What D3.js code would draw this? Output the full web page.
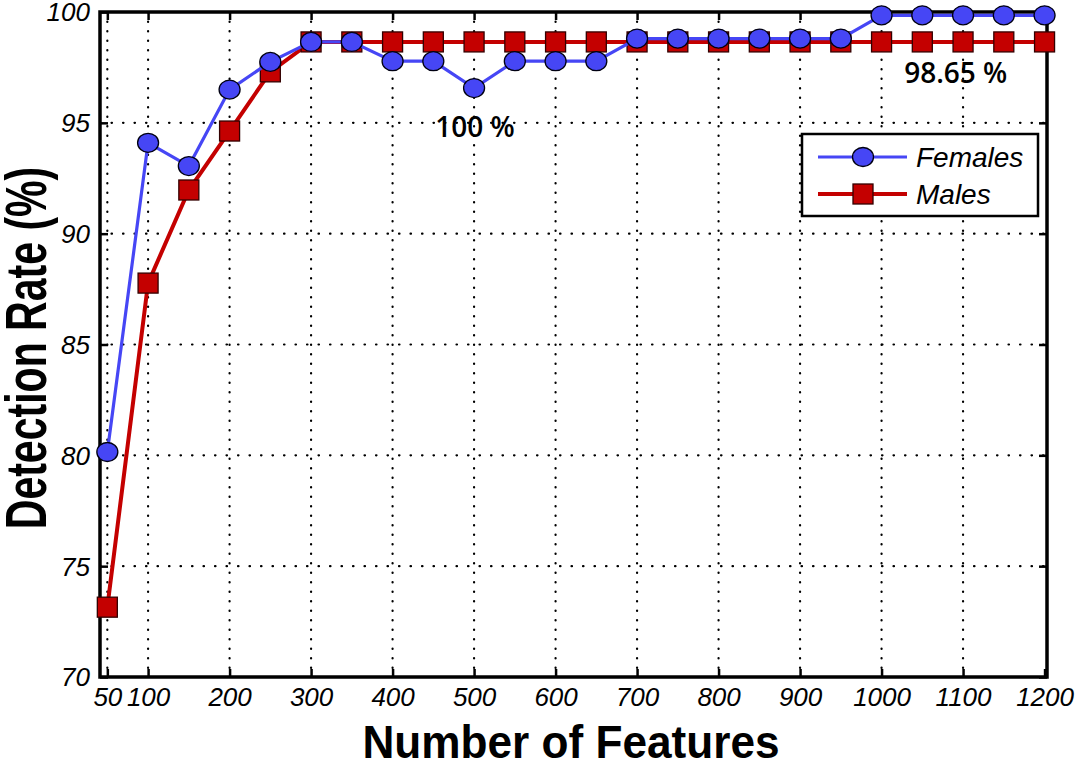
<!DOCTYPE html>
<html><head><meta charset="utf-8">
<script src="https://cdn.jsdelivr.net/npm/d3@7"></script>
<style>body{margin:0;background:#fff}svg{display:block}</style>
</head><body>
<svg id="c" width="1080" height="760"></svg>
<script>
const features = [50,100,150,200,250,300,350,400,450,500,550,600,650,700,750,800,850,900,950,1000,1050,1100,1150,1200];
const females = [80.15,94.1,93.05,96.5,97.75,98.65,98.65,97.78,97.78,96.57,97.78,97.78,97.78,98.8,98.8,98.8,98.8,98.8,98.8,99.85,99.85,99.85,99.85,99.85];
const males = [73.15,87.77,91.97,94.63,97.3,98.65,98.65,98.65,98.65,98.65,98.65,98.65,98.65,98.65,98.65,98.65,98.65,98.65,98.65,98.65,98.65,98.65,98.65,98.65];
const xTicks = [50,100,200,300,400,500,600,700,800,900,1000,1100,1200];
const yTicks = [70,75,80,85,90,95,100];
const seriesNames = ["Females","Males"];
const annotations = [{text:"98.65 %", x:1091, y:96.79},{text:"100 %", x:501, y:94.36}];

const svg = d3.select("#c");
const L=100, R=1047, T=12, B=677;
const x = d3.scaleLinear().domain([41,1203]).range([L,R]);
const y = d3.scaleLinear().domain([70,100]).range([B,T]);
const blue="#4646f5", red="#c40000";
const FONT="Liberation Sans, Arial, sans-serif";

// grid
const g = svg.append("g");
g.selectAll(".vg").data(xTicks.filter(d=>d<1200)).join("line")
  .attr("x1",d=>x(d)).attr("x2",d=>x(d)).attr("y1",T).attr("y2",B)
  .attr("stroke","#000").attr("stroke-width",2.2).attr("stroke-dasharray","0.5,9").attr("stroke-linecap","round");
g.selectAll(".hg").data(yTicks.filter(d=>d>70&&d<100)).join("line")
  .attr("x1",L).attr("x2",R).attr("y1",d=>y(d)).attr("y2",d=>y(d))
  .attr("stroke","#000").attr("stroke-width",2.2).attr("stroke-dasharray","0.5,11").attr("stroke-linecap","round");

// axes (ticks inward)
const xa = svg.append("g").attr("transform",`translate(0,${B})`)
  .call(d3.axisBottom(x).tickValues(xTicks).tickSize(-8).tickPadding(11).tickFormat(d3.format("d")));
const xt = svg.append("g").attr("transform",`translate(0,${T})`)
  .call(d3.axisTop(x).tickValues(xTicks).tickSize(-8).tickFormat(""));
const ya = svg.append("g").attr("transform",`translate(${L},0)`)
  .call(d3.axisLeft(y).tickValues(yTicks).tickSize(-8).tickPadding(10).tickFormat(d3.format("d")));
const yr = svg.append("g").attr("transform",`translate(${R},0)`)
  .call(d3.axisRight(y).tickValues(yTicks).tickSize(-8).tickFormat(""));
[xa,xt,ya,yr].forEach(a=>{a.select(".domain").remove();a.selectAll("line").attr("stroke","#000").attr("stroke-width",2.5);});
[xa,ya].forEach(a=>a.selectAll("text").attr("font-family",FONT).attr("font-size",26).attr("font-style","italic").attr("fill","#000"));
xa.selectAll("text").attr("dy","0.71em");
ya.selectAll("text").attr("dy","0.34em");

svg.append("rect").attr("x",L).attr("y",T).attr("width",R-L).attr("height",B-T)
  .attr("fill","none").attr("stroke","#000").attr("stroke-width",3.5);

// lines
const line = (vals)=>d3.line().x((d,i)=>x(features[i])).y(d=>y(d))(vals);
svg.append("path").attr("d",line(males)).attr("fill","none").attr("stroke",red).attr("stroke-width",4);
svg.append("g").selectAll("rect").data(males).join("rect")
  .attr("x",(d,i)=>x(features[i])-10).attr("y",d=>y(d)-10).attr("width",20).attr("height",20)
  .attr("fill",red).attr("stroke","#300").attr("stroke-width",1.3);
svg.append("path").attr("d",line(females)).attr("fill","none").attr("stroke",blue).attr("stroke-width",3.2);
svg.append("g").selectAll("ellipse").data(females).join("ellipse")
  .attr("cx",(d,i)=>x(features[i])).attr("cy",d=>y(d)).attr("rx",10.5).attr("ry",9.5)
  .attr("fill",blue).attr("stroke","#001").attr("stroke-width",1.3);

// annotations
svg.selectAll(".ann").data(annotations).join("text")
  .attr("x",d=>x(d.x)).attr("y",d=>y(d.y)).attr("text-anchor","middle")
  .attr("font-family","Open Sans, DejaVu Sans, sans-serif").attr("font-size",28).attr("font-weight",600)
  .text(d=>d.text);

// legend
const lg = svg.append("g");
lg.append("rect").attr("x",802).attr("y",134).attr("width",236).attr("height",82)
  .attr("fill","#fff").attr("stroke","#000").attr("stroke-width",2.5);
seriesNames.forEach((n,i)=>{
  const yy = 157 + i*37;
  const c = i===0?blue:red;
  lg.append("line").attr("x1",818).attr("x2",907).attr("y1",yy).attr("y2",yy).attr("stroke",c).attr("stroke-width",i===0?3.2:4);
  if(i===0) lg.append("ellipse").attr("cx",863).attr("cy",yy).attr("rx",10.5).attr("ry",9.5).attr("fill",blue).attr("stroke","#001").attr("stroke-width",1.3);
  else lg.append("rect").attr("x",853).attr("y",yy-10).attr("width",20).attr("height",20).attr("fill",red).attr("stroke","#300").attr("stroke-width",1.3);
  lg.append("text").attr("x",916).attr("y",yy+10).attr("font-family",FONT)
    .attr("font-size",28).attr("font-style","italic").text(n);
});

// axis titles
svg.append("text").attr("transform","translate(571,758) scale(0.96,1)").attr("text-anchor","middle")
  .attr("font-family",FONT).attr("font-weight","bold").attr("font-size",46)
  .text("Number of Features");
svg.append("text").attr("transform","translate(46,348) rotate(-90) scale(0.72,1)").attr("text-anchor","middle")
  .attr("font-family",FONT).attr("font-weight","bold").attr("font-size",57)
  .text("Detection Rate (%)");
</script>
</body></html>
